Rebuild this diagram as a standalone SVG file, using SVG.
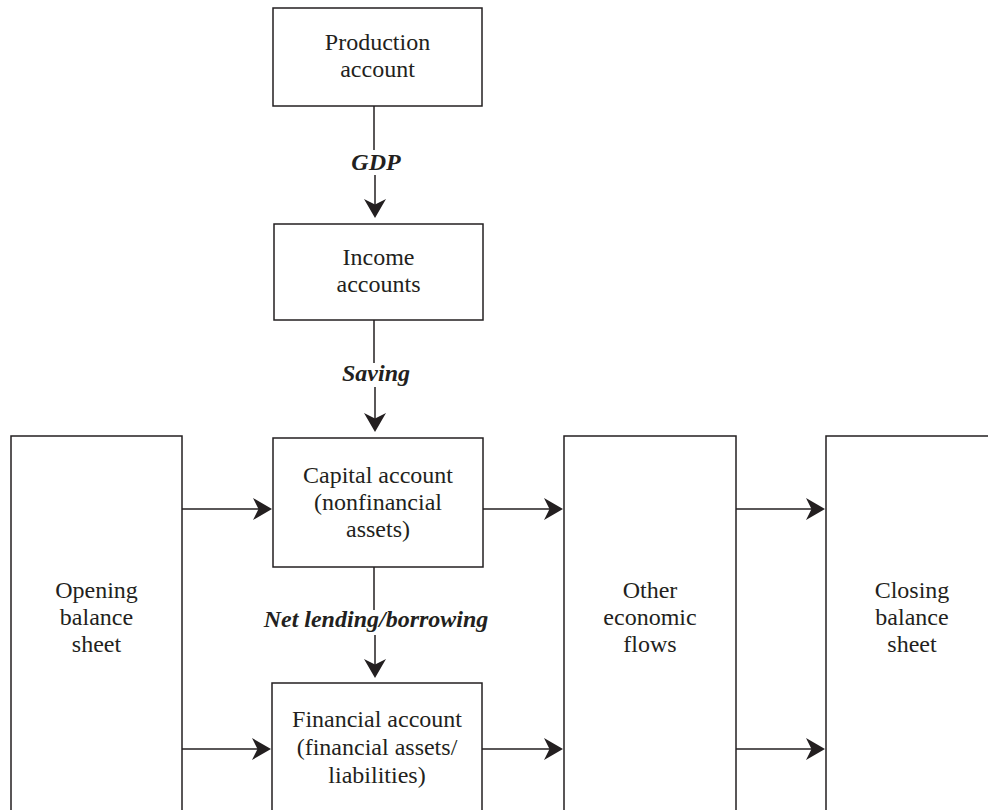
<svg xmlns="http://www.w3.org/2000/svg" width="988" height="810" viewBox="0 0 988 810">
<style>
  .box { fill: #ffffff; stroke: #231f20; stroke-width: 1.5; }
  .t { font-family: "Liberation Serif", "Times New Roman", serif; font-size: 24px; fill: #231f20; text-anchor: middle; }
  .lbl { font-family: "Liberation Serif", "Times New Roman", serif; font-size: 24px; font-weight: bold; font-style: italic; fill: #231f20; text-anchor: middle; }
  .ln { stroke: #231f20; stroke-width: 1.5; fill: none; }
  .arr { stroke: #231f20; stroke-width: 1.5; fill: none; marker-end: url(#ah); }
</style>
<defs>
  <marker id="ah" markerUnits="userSpaceOnUse" viewBox="-21 -12 22 24" refX="-10" refY="0" markerWidth="22" markerHeight="24" orient="auto">
    <path d="M0,0 L-19,-11 L-13.5,0 L-19,11 Z" fill="#231f20"/>
  </marker>
</defs>
<rect width="988" height="810" fill="#ffffff"/>

<g id="production">
  <rect class="box" x="273" y="8" width="209" height="98"/>
  <text class="t" x="377.5" y="50">Production</text>
  <text class="t" x="377.5" y="77">account</text>
</g>
<g id="income">
  <rect class="box" x="274" y="224" width="209" height="96"/>
  <text class="t" x="378.5" y="265">Income</text>
  <text class="t" x="378.5" y="292">accounts</text>
</g>
<g id="capital">
  <rect class="box" x="273" y="438" width="210" height="129"/>
  <text class="t" x="378" y="483">Capital account</text>
  <text class="t" x="378" y="510">(nonfinancial</text>
  <text class="t" x="378" y="537">assets)</text>
</g>
<g id="financial">
  <rect class="box" x="272" y="683" width="210" height="160"/>
  <text class="t" x="377" y="727">Financial account</text>
  <text class="t" x="377" y="755">(financial assets/</text>
  <text class="t" x="377" y="783">liabilities)</text>
</g>
<g id="opening">
  <rect class="box" x="11" y="436" width="171" height="410"/>
  <text class="t" x="96.5" y="598">Opening</text>
  <text class="t" x="96.5" y="625">balance</text>
  <text class="t" x="96.5" y="652">sheet</text>
</g>
<g id="other">
  <rect class="box" x="564" y="436" width="172" height="410"/>
  <text class="t" x="650" y="598">Other</text>
  <text class="t" x="650" y="625">economic</text>
  <text class="t" x="650" y="652">flows</text>
</g>
<g id="closing">
  <rect class="box" x="826" y="436" width="172" height="410"/>
  <text class="t" x="912" y="598">Closing</text>
  <text class="t" x="912" y="625">balance</text>
  <text class="t" x="912" y="652">sheet</text>
</g>

<g id="connectors">
  <line class="ln" x1="374" y1="106" x2="374" y2="150"/>
  <line class="arr" x1="375" y1="175" x2="375" y2="208"/>
  <text class="lbl" x="376" y="170">GDP</text>

  <line class="ln" x1="374" y1="320" x2="374" y2="363"/>
  <line class="arr" x1="375" y1="387" x2="375" y2="422"/>
  <text class="lbl" x="376" y="381">Saving</text>

  <line class="ln" x1="374" y1="567" x2="374" y2="610"/>
  <line class="arr" x1="375" y1="635" x2="375" y2="668"/>
  <text class="lbl" x="376" y="627">Net lending/borrowing</text>

  <line class="arr" x1="182" y1="509" x2="262" y2="509"/>
  <line class="arr" x1="483" y1="509" x2="553" y2="509"/>
  <line class="arr" x1="736" y1="509" x2="815" y2="509"/>

  <line class="arr" x1="182" y1="749" x2="261" y2="749"/>
  <line class="arr" x1="482" y1="749" x2="553" y2="749"/>
  <line class="arr" x1="736" y1="749" x2="815" y2="749"/>
</g>
</svg>
